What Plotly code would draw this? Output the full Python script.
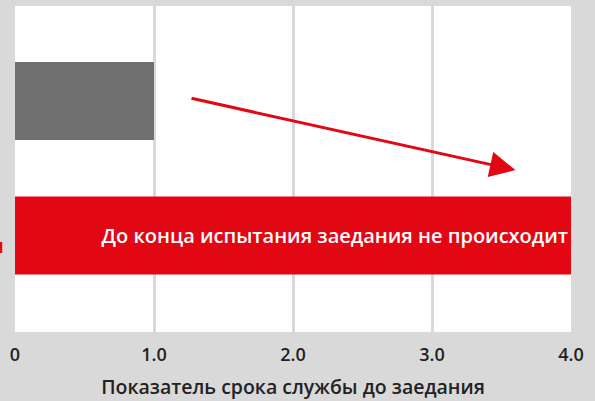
import plotly.graph_objects as go

categories = ["Конкурент", "Продукт"]
values = [1.0, 4.0]
bar_colors = ["#707070", "#e30613"]
bar_texts = ["", "До конца испытания заедания не происходит"]
tick_vals = [0, 1, 2, 3, 4]
tick_labels = ["0", "1.0", "2.0", "3.0", "4.0"]
x_title = "Показатель срока службы до заедания"

# numeric y positions: red bar at 0, gray bar at 1
ypos = [1, 0]

fig = go.Figure()
fig.add_trace(go.Bar(
    x=values, y=ypos, orientation="h",
    marker=dict(color=bar_colors, line=dict(width=0)),
    width=0.58,
    text=bar_texts, textposition="inside", insidetextanchor="end",
    textfont=dict(color="white", size=20, family="Open Sans", weight=600),
    hoverinfo="skip",
))

fig.add_annotation(
    x=3.60, y=0.487, ax=1.259, ay=1.023,
    xref="x", yref="y", axref="x", ayref="y",
    showarrow=True, arrowhead=2, arrowsize=1.7, arrowwidth=3,
    arrowcolor="#e30613", text="",
)

fig.add_shape(type="rect", xref="paper", yref="paper",
              x0=-0.027, x1=-0.023, y0=(332-253)/326, y1=(332-242)/326,
              fillcolor="#e30613", line=dict(width=0))

fig.update_layout(
    width=595, height=401,
    margin=dict(l=15, r=24, t=6, b=69),
    paper_bgcolor="#d9d9d9", plot_bgcolor="white",
    showlegend=False,
    font=dict(family="Open Sans", color="#222222"),
    xaxis=dict(
        range=[0, 4], tickvals=tick_vals, ticktext=tick_labels,
        showgrid=True, gridcolor="#d9d9d9", gridwidth=3,
        zeroline=False, showline=False, ticks="",
        ticklabelstandoff=10,
        tickfont=dict(size=18, weight=600, color="#222222"),
        title=dict(text=x_title, font=dict(size=19.5, weight=600, color="#222222"), standoff=15),
        automargin=False,
    ),
    yaxis=dict(
        range=[-0.717, 1.707], showticklabels=False, showgrid=False,
        zeroline=False, showline=False, automargin=False,
    ),
)

fig.write_html("out.html", config={"displayModeBar": False},
               post_script="document.body.style.margin='0';document.body.style.overflow='hidden';")
